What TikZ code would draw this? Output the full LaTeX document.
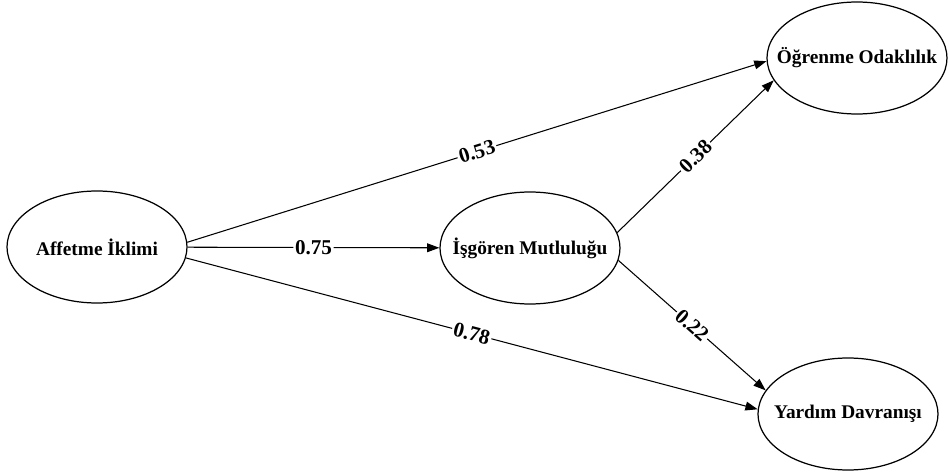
\documentclass[tikz,border=0pt]{standalone}
\usepackage{fontspec}
\setmainfont{Liberation Serif}
\usetikzlibrary{arrows.meta, shapes.geometric}
% keep the ellipse size fixed, whatever the name's width
\newcommand{\cname}[1]{\makebox[0pt][c]{#1}}
\tikzset{
  construct/.style = {
    draw,
    ellipse,
    line width     = 0.7pt,
    minimum width  = 3.6cm,
    minimum height = 2.24cm,
    inner sep      = 0pt,
    font           = \fontsize{11}{13}\selectfont\bfseries
  },
  path/.style  = {line width = 0.6pt, -{Triangle[length=7pt,width=5pt]}},
  coef/.style  = {midway, sloped, fill = white, inner sep = 1pt,
                  font = \fontsize{12}{14}\selectfont\bfseries}
}

\begin{document}
\begin{tikzpicture}

% Canvas
\useasboundingbox (0,0) rectangle (18.98,9.46);

% Constructs
\node[construct] (aff) at (1.94,4.52)  {\cname{Affetme İklimi}};
\node[construct] (isg) at (10.6,4.50)  {\cname{İşgören Mutluluğu}};
\node[construct] (ogr) at (17.14,8.30) {\cname{Öğrenme Odaklılık}};
\node[construct] (yar) at (16.96,1.18) {\cname{Yardım Davranışı}};

% Direct paths
\draw[path] (aff.3)  -- node[coef] {0.53} (ogr.182);
\draw[path] (aff)    -- node[coef] {0.75} (isg);
\draw[path] (aff.-7) -- node[coef] {0.78} (yar.177);

% Mediator paths
\draw[path] (isg.10) -- node[coef] {0.38} (ogr.195);
\draw[path] (isg.-8) -- node[coef] {0.22} (yar.164);

\end{tikzpicture}
\end{document}
